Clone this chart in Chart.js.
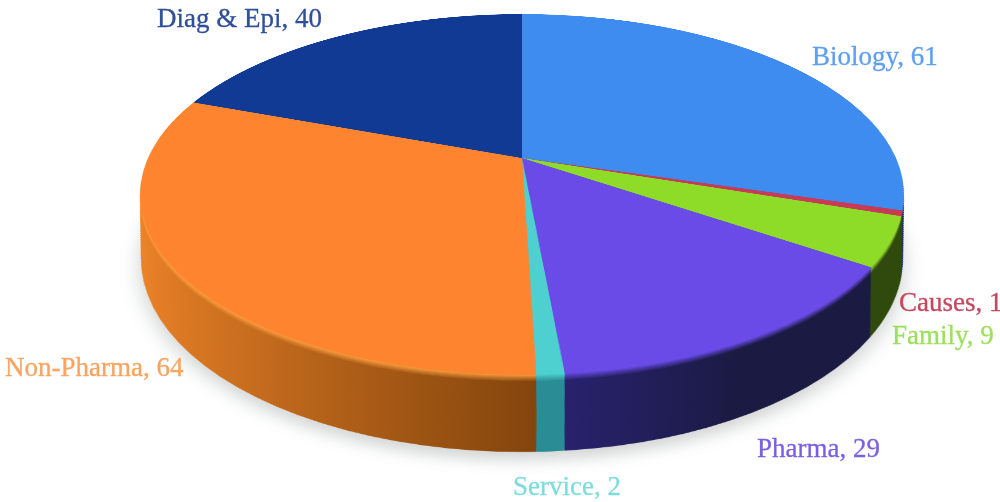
<!DOCTYPE html>
<html>
    <head>
        <meta charset="utf-8">
        <title>Pie chart</title>
        <script src="https://cdn.jsdelivr.net/npm/chart.js@4.4.1/dist/chart.umd.min.js" type="text/javascript"></script>
        <style>
            html, body { margin: 0; padding: 0; background: #fff; }
            #stage { position: relative; width: 1000px; height: 502px; overflow: hidden; }
            #wrap { position: absolute; left: -178px; top: -542px; width: 1400px; height: 1400px; transform-origin: 700px 700px; }
            .lbl { position: absolute; white-space: nowrap; font-family: "Liberation Serif", serif; font-size: 27px; line-height: 30px; -webkit-text-stroke: 0.3px; }
        </style>
    </head>

    <body>
        <div id="stage">
            <div id="wrap"><canvas id="pie" width="1400" height="1400"></canvas></div>
        </div>
    </body>

    <script>
        const categories = ["Biology", "Causes", "Family", "Pharma", "Service", "Non-Pharma", "Diag & Epi"];
        const counts = [61, 1, 9, 29, 2, 64, 40];

        const topColors = ["#3f8cf0", "#c83a55", "#8fdc28", "#6a4be8", "#4fd0d0", "#fe8430", "#113a94"];
        const rimColors = ["#3f8cf0", "#c83a55", "#8fdc28", "#6a4be8", "#4fd0d0", "#ffa040", "#113a94"];
        // side wall colours, left and right end of a horizontal gradient
        const sideColors = [
            ["#1a3560", "#1a3560"], ["#2f4a0c", "#2f4a0c"], ["#3b5a10", "#2f4a0c"], ["#2b2478", "#1b1a42"],
            ["#2a8d96", "#2a8d96"], ["#f08529", "#82440c"], ["#0a2058", "#0a2058"]
        ];
        const labelColors = ["#5f9ef0", "#c5485f", "#9be05a", "#7a5fe2", "#7fdcdc", "#f9a460", "#2f4f98"];
        const labelX = [812, 899, 892, 757, 513, 5, 157];
        const labelY = [56, 302, 335, 448, 486, 367, 18];

        // perspective of the top face: circle of radius R goes to an ellipse with the apex off centre
        const R = 500, A = 374, B = 173, G = -0.202;
        document.getElementById("wrap").style.transform =
            "matrix3d(" + [A / R, 0, 0, 0, 0, B / R, 0, G / R, 0, 0, 1, 0, 0, 0, 0, 1].join(",") + ")";

        function hex(c) {
            return [1, 3, 5].map(i => parseInt(c.substr(i, 2), 16));
        }
        function mix(a, b, t) {
            let x = hex(a), y = hex(b);
            return "rgb(" + x.map((v, i) => Math.round(v + (y[i] - v) * t)).join(",") + ")";
        }

        const wallPlugin = {
            id: "wall",
            beforeDatasetsDraw(chart) {
                const ctx = chart.ctx;
                const arcs = chart.getDatasetMeta(0).data;
                const cx = arcs[0].x, cy = arcs[0].y;
                const layers = 70, shiftEnd = 0.335, scaleEnd = 0.93, bevel = 0.1;
                for (let l = layers; l >= 1; l--) {
                    let t = l / layers;
                    let s = 1 + (scaleEnd - 1) * t;
                    ctx.save();
                    if (l == layers) {
                        ctx.shadowColor = "rgba(60,70,70,0.22)";
                        ctx.shadowBlur = 22;
                        ctx.shadowOffsetY = 14;
                    }
                    ctx.translate(cx, cy + shiftEnd * R * t);
                    ctx.scale(s, s);
                    ctx.translate(-cx, -cy);
                    // last layers next to the top face melt into its rim colour
                    let k = t < bevel ? 1 - t / bevel : 0;
                    arcs.forEach((arc, i) => {
                        let g = ctx.createLinearGradient(cx - R, 0, cx + R, 0);
                        let side = sideColors[i];
                        g.addColorStop(i == 5 ? 0 : 0.5, mix(side[0], rimColors[i], k));
                        g.addColorStop(i == 5 ? 0.52 : 0.74, mix(side[1], rimColors[i], k));
                        let copy = Object.create(arc);
                        copy.options = Object.create(arc.options);
                        copy.options.backgroundColor = g;
                        copy.options.borderWidth = 0;
                        copy.draw(ctx);
                    });
                    ctx.restore();
                }
            }
        };

        new Chart(document.getElementById("pie"), {
            type: "pie",
            data: {
                labels: categories,
                datasets: [{ data: counts, backgroundColor: topColors, borderWidth: 0 }]
            },
            options: {
                responsive: false,
                animation: false,
                events: [],
                layout: { padding: 200 },
                plugins: { legend: { display: false }, tooltip: { enabled: false } }
            },
            plugins: [wallPlugin]
        });

        const stage = document.getElementById("stage");
        for (let i in categories) {
            let el = document.createElement("div");
            el.className = "lbl";
            el.textContent = categories[i] + ", " + counts[i];
            el.style.color = labelColors[i];
            el.style.left = labelX[i] + "px";
            el.style.top = (labelY[i] - 15) + "px";
            stage.appendChild(el);
        }
    </script>
</html>
